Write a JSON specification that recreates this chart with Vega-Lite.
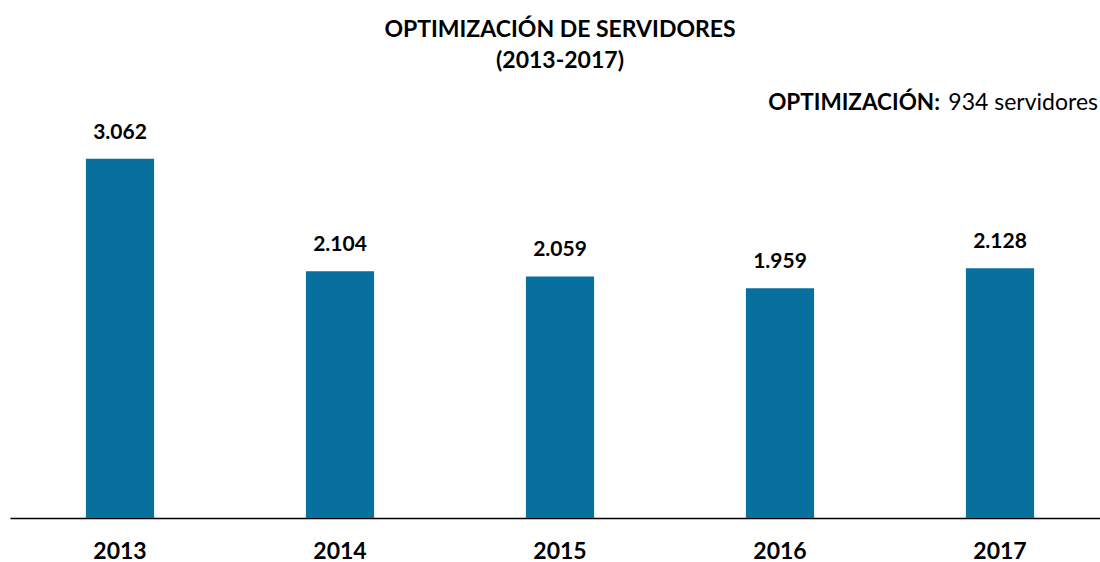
{
  "$schema": "https://vega.github.io/schema/vega-lite/v6.json",
  "width": 1100,
  "height": 418,
  "autosize": {"type": "none"},
  "padding": {"left": 10, "top": 100, "right": 0, "bottom": 44},
  "background": "white",
  "config": {
    "view": {"stroke": null},
    "font": "Lato",
    "locale": {"number": {"decimal": ",", "thousands": ".", "grouping": [3], "currency": ["", ""]}}
  },
  "title": {
    "text": ["OPTIMIZACIÓN DE SERVIDORES", "(2013-2017)"],
    "anchor": "middle",
    "font": "Lato",
    "fontSize": 23,
    "fontWeight": "bold",
    "color": "#000000",
    "lineHeight": 31,
    "offset": 19
  },
  "data": {
    "values": [
      {"year": "2013", "servidores": 3062},
      {"year": "2014", "servidores": 2104},
      {"year": "2015", "servidores": 2059},
      {"year": "2016", "servidores": 1959},
      {"year": "2017", "servidores": 2128}
    ]
  },
  "encoding": {
    "x": {
      "field": "year",
      "type": "nominal",
      "scale": {"paddingInner": 0.69, "paddingOuter": 0.345},
      "axis": {
        "title": null,
        "labelAngle": 0,
        "ticks": false,
        "labelPadding": 22,
        "labelFont": "Lato",
        "labelFontSize": 23,
        "labelFontWeight": "bold",
        "labelColor": "#000000",
        "domainColor": "#000000",
        "domainWidth": 1.5
      }
    }
  },
  "layer": [
    {
      "mark": {"type": "bar", "color": "#07709f"},
      "encoding": {
        "y": {"field": "servidores", "type": "quantitative", "scale": {"domain": [0, 3563], "nice": false, "zero": true}, "axis": null}
      }
    },
    {
      "mark": {"type": "text", "baseline": "middle", "dy": -26, "fontSize": 21, "fontWeight": "bold", "color": "#000000"},
      "encoding": {
        "y": {"field": "servidores", "type": "quantitative", "scale": {"domain": [0, 3563], "nice": false}},
        "text": {"field": "servidores", "type": "quantitative", "format": ",d"}
      }
    },
    {
      "data": {"values": [{"year": "2017", "nivel": 3538, "texto": "934 servidores"}]},
      "mark": {"type": "text", "align": "right", "baseline": "middle", "xOffset": 98, "fontSize": 23, "color": "#000000"},
      "encoding": {
        "x": {"field": "year", "type": "nominal"},
        "y": {"field": "nivel", "type": "quantitative", "scale": {"domain": [0, 3563], "nice": false}},
        "text": {"field": "texto"}
      }
    },
    {
      "data": {"values": [{"year": "2017", "nivel": 3538, "texto": "OPTIMIZACIÓN:"}]},
      "mark": {"type": "text", "align": "right", "baseline": "middle", "xOffset": -60, "fontSize": 22.5, "fontWeight": "bold", "color": "#000000"},
      "encoding": {
        "x": {"field": "year", "type": "nominal"},
        "y": {"field": "nivel", "type": "quantitative", "scale": {"domain": [0, 3563], "nice": false}},
        "text": {"field": "texto"}
      }
    }
  ]
}
